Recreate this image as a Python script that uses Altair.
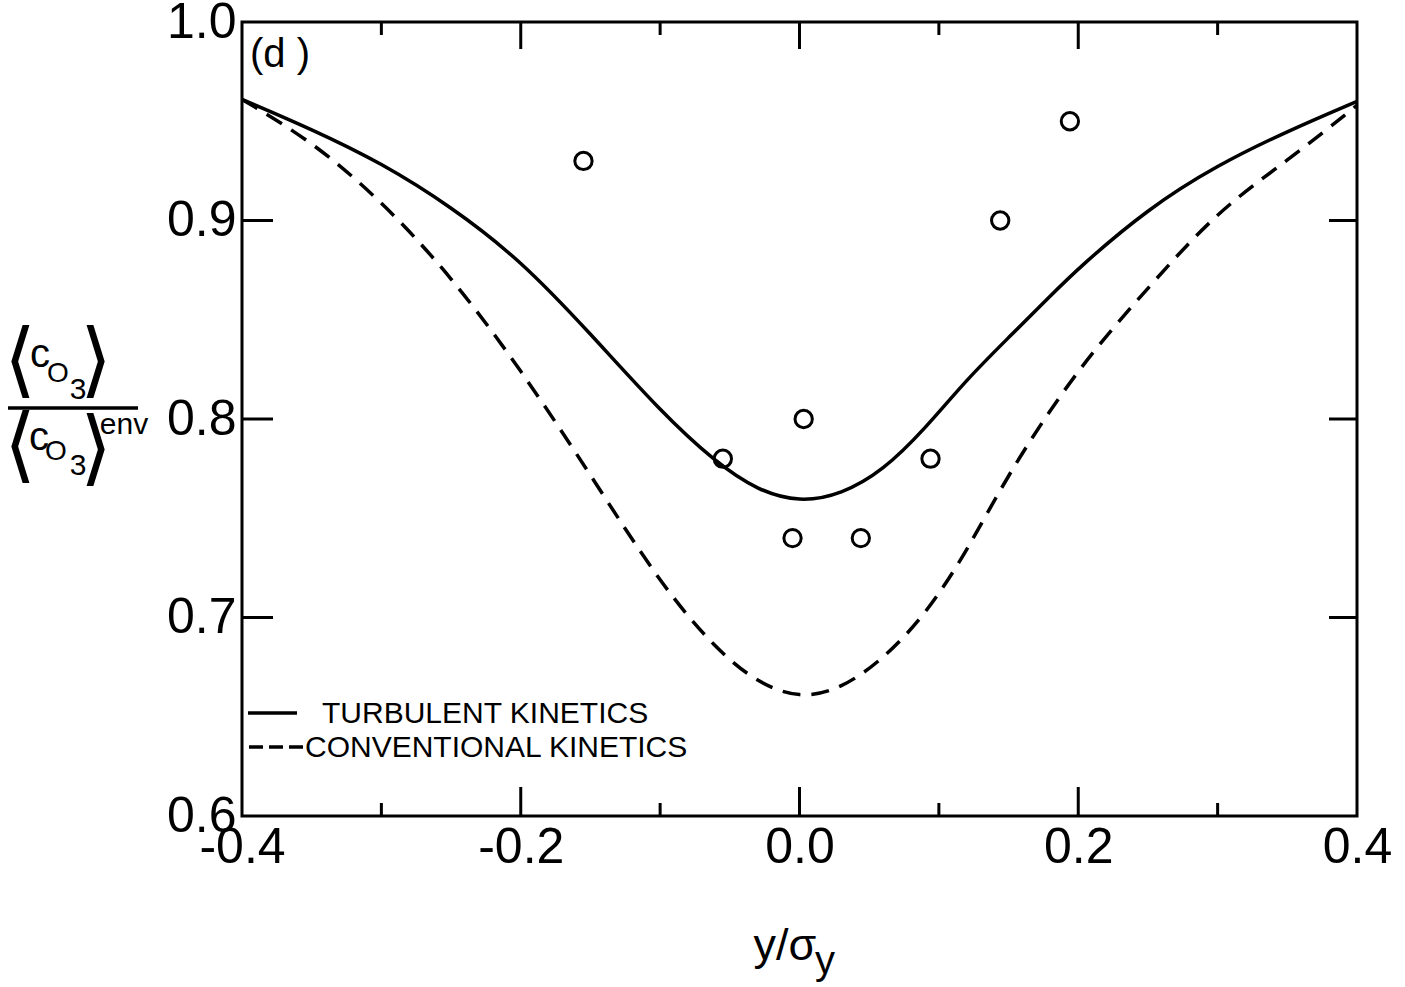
import altair as alt
import pandas as pd

# Turbulent-kinetics prediction (solid curve)
turb_x = [-0.4, -0.35, -0.3, -0.25, -0.2, -0.15, -0.1, -0.06, -0.03, 0.0,
          0.03, 0.06, 0.09, 0.12, 0.15, 0.18, 0.2, 0.25, 0.3, 0.35, 0.4]
turb_y = [0.961, 0.946, 0.929, 0.907, 0.880, 0.843, 0.804, 0.778, 0.764, 0.758,
          0.762, 0.774, 0.795, 0.820, 0.841, 0.862, 0.876, 0.906, 0.928, 0.945, 0.960]

# Conventional-kinetics prediction (dashed curve)
conv_x = [-0.4, -0.35, -0.3, -0.25, -0.2, -0.15, -0.1, -0.06, -0.03, 0.0,
          0.03, 0.06, 0.09, 0.12, 0.15, 0.2, 0.25, 0.3, 0.35, 0.4]
conv_y = [0.961, 0.940, 0.910, 0.872, 0.825, 0.772, 0.717, 0.684, 0.667, 0.659,
          0.664, 0.679, 0.701, 0.733, 0.773, 0.826, 0.866, 0.905, 0.930, 0.958]

# Measured values (open circles)
obs_x = [-0.155, -0.055, 0.003, -0.005, 0.044, 0.094, 0.144, 0.194]
obs_y = [0.93, 0.78, 0.80, 0.74, 0.74, 0.78, 0.90, 0.95]

# Axis ticks
x_label_values = [-0.4, -0.2, 0.0, 0.2, 0.4]
x_major_ticks = [-0.2, 0.0, 0.2]
x_minor_ticks = [-0.3, -0.1, 0.1, 0.3]
y_label_values = [0.6, 0.7, 0.8, 0.9, 1.0]
y_ticks = [0.7, 0.8, 0.9]

legend_labels = ["TURBULENT KINETICS", "CONVENTIONAL KINETICS"]
panel_label = "(d )"

W, H = 1115, 794
FONT = "Liberation Sans"
INK = "black"

xs = alt.Scale(domain=[-0.4, 0.4], nice=False)
ys = alt.Scale(domain=[0.6, 1.0], nice=False, zero=False)

x_axis = alt.Axis(
    values=x_label_values, ticks=False, domain=False, grid=False,
    labelExpr="datum.value < 0 ? '-' + format(-datum.value, '.1f') : format(datum.value, '.1f')",
    labelFont=FONT, labelFontSize=50, labelColor=INK, labelPadding=6,
    labelFlush=False, labelOverlap=False,
)
y_axis = alt.Axis(
    values=y_label_values, ticks=False, domain=False, grid=False, format=".1f",
    labelFont=FONT, labelFontSize=50, labelColor=INK, labelPadding=6,
    labelFlush=False, labelOverlap=False,
)

turb_df = pd.DataFrame({"x": turb_x, "y": turb_y})
conv_df = pd.DataFrame({"x": conv_x, "y": conv_y})
obs_df = pd.DataFrame({"x": obs_x, "y": obs_y})

turb = alt.Chart(turb_df).mark_line(
    color=INK, strokeWidth=3.5, interpolate="basis"
).encode(
    x=alt.X("x:Q", scale=xs, axis=x_axis, title=None),
    y=alt.Y("y:Q", scale=ys, axis=y_axis, title=None),
)

conv = alt.Chart(conv_df).mark_line(
    color=INK, strokeWidth=3.5, strokeDash=[18, 11], interpolate="basis"
).encode(x=alt.X("x:Q", scale=xs), y=alt.Y("y:Q", scale=ys))

obs = alt.Chart(obs_df).mark_point(
    shape="circle", filled=False, size=300, strokeWidth=3, color=INK, opacity=1
).encode(x=alt.X("x:Q", scale=xs), y=alt.Y("y:Q", scale=ys))


def x_tick_layer(values, y0, y1):
    return alt.Chart(pd.DataFrame({"x": values})).mark_rule(
        color=INK, strokeWidth=3
    ).encode(x=alt.X("x:Q", scale=xs), y=alt.value(y0), y2=alt.value(y1))


def y_tick_layer(values, x0, x1):
    return alt.Chart(pd.DataFrame({"y": values})).mark_rule(
        color=INK, strokeWidth=3
    ).encode(y=alt.Y("y:Q", scale=ys), x=alt.value(x0), x2=alt.value(x1))


ticks = [
    x_tick_layer(x_major_ticks, H, H - 29),
    x_tick_layer(x_minor_ticks, H, H - 13),
    x_tick_layer(x_major_ticks, 0, 27),
    x_tick_layer(x_minor_ticks, 0, 13),
    y_tick_layer(y_ticks, 0, 31),
    y_tick_layer(y_ticks, W, W - 28),
]

one = pd.DataFrame({"k": [0]})


def text(t, x, y, size, align="center", baseline="middle", font=FONT):
    return alt.Chart(one).mark_text(
        text=t, align=align, baseline=baseline, fontSize=size, font=font, color=INK
    ).encode(x=alt.value(x), y=alt.value(y))


def seg(x0, x1, y, dash=None):
    kw = {"color": INK, "strokeWidth": 3.5}
    if dash:
        kw["strokeDash"] = dash
    return alt.Chart(one).mark_rule(**kw).encode(
        x=alt.value(x0), x2=alt.value(x1), y=alt.value(y)
    )


BR = "DejaVu Sans"
annotations = [
    text(panel_label, 8, 33, 40, align="left"),
    # legend
    seg(6, 55, 691),
    text(legend_labels[0], 80, 692, 30, align="left"),
    seg(7, 61, 725, dash=[14, 6]),
    text(legend_labels[1], 63, 726, 30, align="left"),
    # y-axis title: <c_O3> / <c_O3>^env
    text("\u27e8", -222, 340, 82, font=BR),
    text("c", -202, 333, 40),
    text("O", -184, 352, 28),
    text("3", -164, 368, 30),
    text("\u27e9", -146, 340, 82, font=BR),
    seg(-234, -104, 386),
    text("\u27e8", -222, 425, 82, font=BR),
    text("c", -203, 416, 40),
    text("O", -186, 430, 28),
    text("3", -164, 444, 30),
    text("\u27e9", -146, 428, 82, font=BR),
    text("env", -118, 403, 30),
    # x-axis title: y/sigma_y
    text("y/\u03c3", 543, 938, 45, baseline="alphabetic"),
    text("y", 583, 952, 40, baseline="alphabetic"),
]

chart = alt.layer(
    turb, conv, obs, *ticks, *annotations
).properties(
    width=W,
    height=H,
    autosize=alt.AutoSizeParams(type="none"),
    padding={"left": 242, "top": 22, "right": 48, "bottom": 171},
    background="white",
).configure_view(
    stroke=INK, strokeWidth=3
)

chart.save("out.html", embed_options={"renderer": "svg", "actions": False})
